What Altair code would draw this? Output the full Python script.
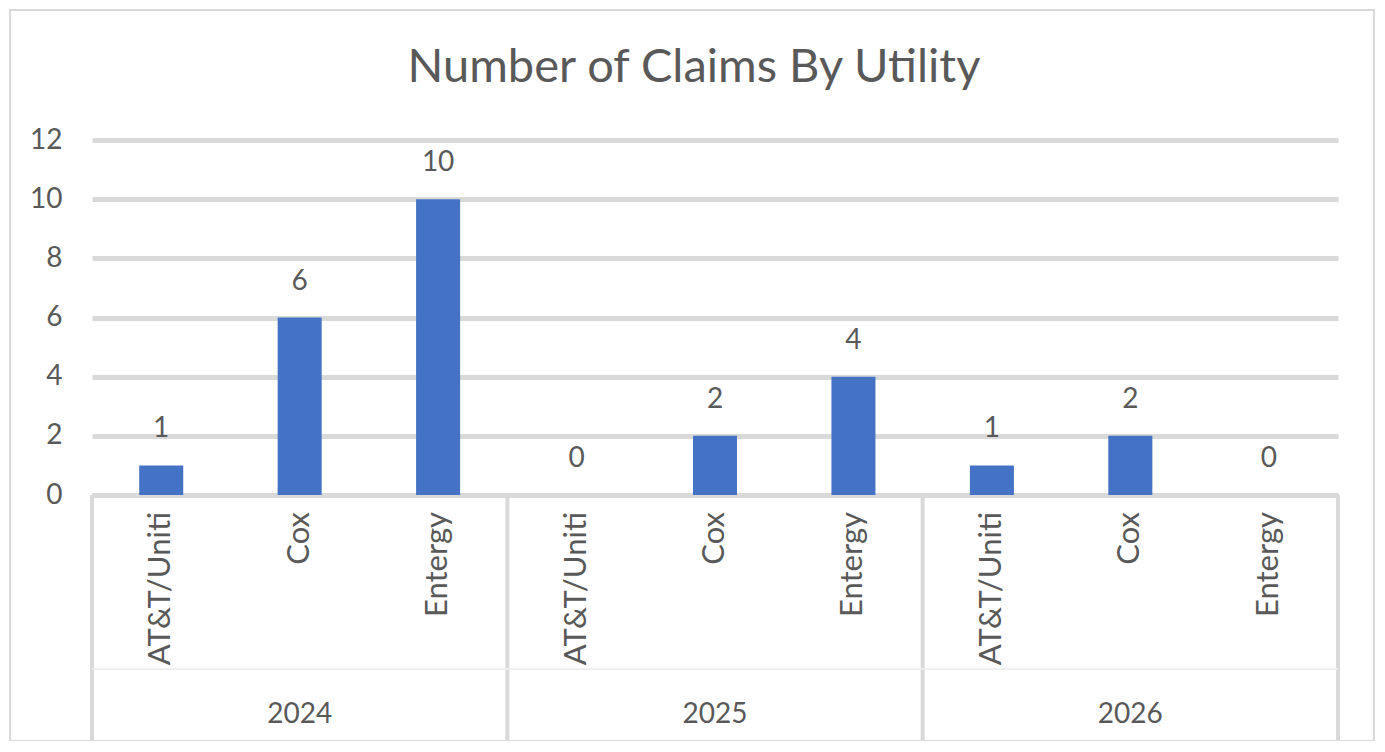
import altair as alt
import pandas as pd

years = ["2024", "2025", "2026"]
utilities = ["AT&T/Uniti", "Cox", "Entergy"]
claims = [1, 6, 10, 0, 2, 4, 1, 2, 0]
title_text = ["Number of Claims By Utility"]

rows = []
i = 0
for y in years:
    for u in utilities:
        rows.append({"year": y, "utility": u, "claims": claims[i], "pos": i + 0.5,
                     "x0": i + 0.5 - 0.159, "x1": i + 0.5 + 0.159})
        i += 1
df = pd.DataFrame(rows)

n = len(years) * len(utilities)
groups = pd.DataFrame({"year": years,
                       "center": [k * len(utilities) + len(utilities) / 2 for k in range(len(years))]})
bounds = pd.DataFrame({"b": [k * len(utilities) for k in range(len(years) + 1)]})
titles = pd.DataFrame({"t": title_text})

W, H = 1246, 355
FONT = "Lato"
TXT = "#595959"
GRID = "#d9d9d9"

xscale = alt.Scale(domain=[0, n], nice=False, zero=False)
yscale = alt.Scale(domain=[0, 12], nice=False)

base = alt.Chart(df)

bars = base.mark_bar(color="#4472C4").encode(
    x=alt.X("x0:Q", scale=xscale,
            axis=alt.Axis(labels=False, ticks=False, grid=False, title=None,
                          domainColor=GRID, domainWidth=4)),
    x2="x1:Q",
    y=alt.Y("claims:Q", scale=yscale,
            axis=alt.Axis(values=[0, 2, 4, 6, 8, 10, 12], title=None, ticks=False, domain=False,
                          gridColor=GRID, gridWidth=5, labelFont=FONT, labelFontSize=28,
                          labelColor=TXT, labelPadding=30)),
    y2=alt.Y2(datum=0),
)

vals = base.mark_text(font=FONT, fontSize=28, color=TXT, baseline="bottom", dy=-22).encode(
    x=alt.X("pos:Q", scale=xscale), y=alt.Y("claims:Q", scale=yscale), text="claims:Q")

cats = base.mark_text(font=FONT, fontSize=31, color=TXT, angle=270, align="right",
                      baseline="middle").encode(
    x=alt.X("pos:Q", scale=xscale), y=alt.value(H + 17), text="utility:N")

yrs = alt.Chart(groups).mark_text(font=FONT, fontSize=28, color=TXT, baseline="middle").encode(
    x=alt.X("center:Q", scale=xscale), y=alt.value(H + 220), text="year:N")

seps = alt.Chart(bounds).mark_rule(color=GRID, strokeWidth=4).encode(
    x=alt.X("b:Q", scale=xscale), y=alt.value(H), y2=alt.value(H + 265))

faint = alt.Chart(bounds).mark_rule(color="#eeeeee", strokeWidth=1).encode(
    x=alt.value(0), x2=alt.value(W), y=alt.value(H + 174))

border = alt.Chart(bounds.head(1)).mark_rect(fill=None, stroke=GRID, strokeWidth=2).encode(
    x=alt.value(-82), x2=alt.value(W + 36), y=alt.value(-130), y2=alt.value(H + 246))

ttl = alt.Chart(titles).mark_text(font=FONT, fontSize=47, color=TXT, baseline="alphabetic",
                                  align="center").encode(
    x=alt.value(W / 2 - 21), y=alt.value(-58), text="t:N")

chart = alt.layer(border, bars, vals, cats, yrs, seps, faint, ttl).properties(
    width=W, height=H,
    autosize=alt.AutoSizeParams(type="none"),
    padding={"left": 84, "top": 132, "right": 39, "bottom": 246},
).configure_view(stroke=None, clip=False)

chart.save("out.html", embed_options={"renderer": "svg", "actions": False})
